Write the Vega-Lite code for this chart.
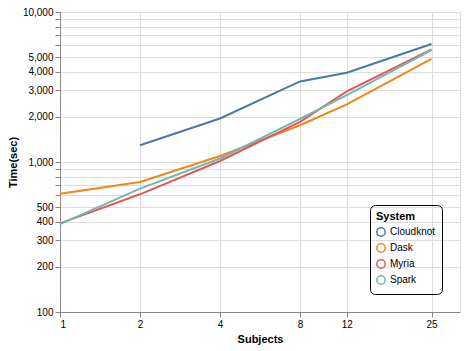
{
  "$schema": "https://vega.github.io/schema/vega-lite/v6.json",
  "width": 400,
  "height": 300,
  "padding": {"left": 7, "top": 7, "right": 5, "bottom": 5},
  "config": {"font": "Liberation Sans", "view": {"stroke": "#ddd"}},
  "data": {"values": [
    {"System": "Cloudknot", "Subjects": 2, "Time": 1294},
    {"System": "Cloudknot", "Subjects": 4, "Time": 1950},
    {"System": "Cloudknot", "Subjects": 8, "Time": 3445},
    {"System": "Cloudknot", "Subjects": 12, "Time": 3934},
    {"System": "Cloudknot", "Subjects": 25, "Time": 6115},
    {"System": "Dask", "Subjects": 1, "Time": 615},
    {"System": "Dask", "Subjects": 2, "Time": 736},
    {"System": "Dask", "Subjects": 4, "Time": 1097},
    {"System": "Dask", "Subjects": 8, "Time": 1759},
    {"System": "Dask", "Subjects": 12, "Time": 2419},
    {"System": "Dask", "Subjects": 25, "Time": 4877},
    {"System": "Myria", "Subjects": 1, "Time": 390},
    {"System": "Myria", "Subjects": 2, "Time": 609},
    {"System": "Myria", "Subjects": 4, "Time": 1016},
    {"System": "Myria", "Subjects": 8, "Time": 1852},
    {"System": "Myria", "Subjects": 12, "Time": 2953},
    {"System": "Myria", "Subjects": 25, "Time": 5636},
    {"System": "Spark", "Subjects": 1, "Time": 385},
    {"System": "Spark", "Subjects": 2, "Time": 665},
    {"System": "Spark", "Subjects": 4, "Time": 1055},
    {"System": "Spark", "Subjects": 8, "Time": 1939},
    {"System": "Spark", "Subjects": 12, "Time": 2791},
    {"System": "Spark", "Subjects": 25, "Time": 5573}
  ]},
  "mark": {"type": "line", "strokeWidth": 2},
  "encoding": {
    "x": {"field": "Subjects", "type": "quantitative", "scale": {"type": "log", "domain": [1, 32], "nice": false},
          "axis": {"values": [1, 2, 4, 8, 12, 25], "title": "Subjects", "format": "d"}},
    "y": {"field": "Time", "type": "quantitative", "scale": {"type": "log", "domain": [100, 10000]},
          "axis": {"title": "Time(sec)", "format": ","}},
    "color": {"field": "System", "type": "nominal",
              "legend": {"orient": "bottom-right", "offset": 18, "strokeColor": "black", "cornerRadius": 5, "padding": 6,
                         "symbolType": "circle", "symbolFillColor": "transparent", "symbolStrokeWidth": 1.5, "symbolSize": 70,
                         "rowPadding": 0, "titlePadding": 5}}
  }
}
